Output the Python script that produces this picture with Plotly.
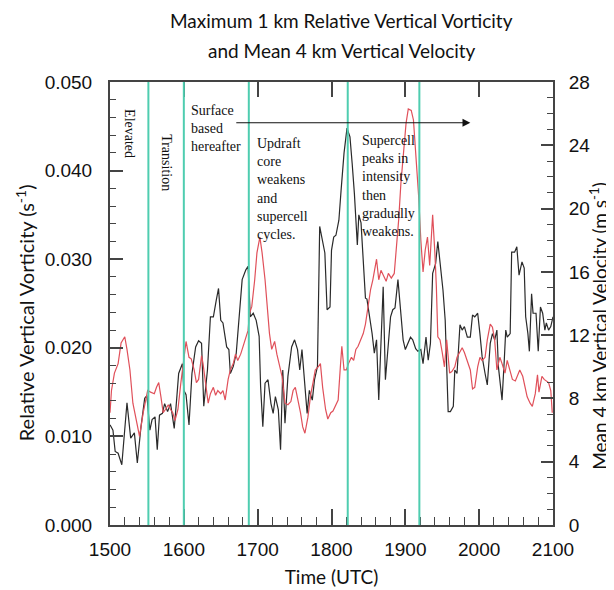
import plotly.graph_objects as go

# ---------------- data ----------------
vort_time = [1500, 1504, 1507, 1511, 1516, 1523, 1528, 1533, 1537, 1542, 1547, 1550,
             1554, 1557, 1561, 1564, 1567, 1571, 1574, 1578, 1582, 1587, 1590, 1593,
             1598, 1600, 1603, 1607, 1611, 1616, 1620, 1624, 1627, 1632, 1636, 1640,
             1644, 1647, 1650, 1653, 1658, 1661, 1663, 1667, 1671, 1676, 1679, 1684,
             1687, 1690, 1694, 1698, 1702, 1704, 1707, 1710, 1714, 1718, 1721, 1724,
             1728, 1731, 1734, 1737, 1741, 1746, 1750, 1754, 1757, 1760, 1764, 1767,
             1770, 1774, 1777, 1781, 1784, 1787, 1791, 1794, 1798, 1800, 1803, 1806,
             1810, 1813, 1817, 1821, 1825, 1828, 1831, 1835, 1837, 1840, 1844, 1846,
             1848, 1852, 1855, 1858, 1861, 1864, 1867, 1870, 1873, 1877, 1880, 1883,
             1886, 1890, 1893, 1897, 1900, 1904, 1907, 1910, 1914, 1917, 1921, 1924,
             1928, 1931, 1934, 1937, 1941, 1944, 1947, 1951, 1954, 1958, 1961, 1965,
             1967, 1970, 1974, 1977, 1980, 1984, 1988, 1991, 1994, 1998, 2001, 2004,
             2008, 2011, 2015, 2018, 2021, 2024, 2026, 2028, 2031, 2034, 2036, 2038,
             2042, 2044, 2048, 2051, 2054, 2058, 2061, 2063, 2066, 2068, 2071, 2073,
             2077, 2080, 2083, 2086, 2089, 2091, 2094, 2097, 2100]
vort_value = [0.0113, 0.0107, 0.0083, 0.0081, 0.0068, 0.0138, 0.0098, 0.0104, 0.0070, 0.0111, 0.0143, 0.0146,
              0.0107, 0.0119, 0.0122, 0.0085, 0.0124, 0.0126, 0.0137, 0.0128, 0.0137, 0.0109, 0.0139, 0.0171,
              0.0182, 0.0152, 0.0147, 0.0113, 0.0171, 0.0201, 0.0208, 0.0205, 0.0134, 0.0175, 0.0235, 0.0235,
              0.0254, 0.0267, 0.0231, 0.0228, 0.0201, 0.0198, 0.0171, 0.0179, 0.0194, 0.0246, 0.0277, 0.0288,
              0.0292, 0.0235, 0.0239, 0.0231, 0.0213, 0.0156, 0.0111, 0.0160, 0.0164, 0.0137, 0.0126, 0.0145,
              0.0130, 0.0085, 0.0175, 0.0115, 0.0168, 0.0201, 0.0209, 0.0198, 0.0175, 0.0198, 0.0160, 0.0126,
              0.0152, 0.0141, 0.0164, 0.0179, 0.0337, 0.0325, 0.0307, 0.0243, 0.0246, 0.0310, 0.0325, 0.0327,
              0.0344, 0.0378, 0.0420, 0.0448, 0.0438, 0.0408, 0.0374, 0.0316, 0.0350, 0.0341, 0.0292, 0.0256,
              0.0255, 0.0235, 0.0216, 0.0194, 0.0209, 0.0141, 0.0201, 0.0269, 0.0164, 0.0209, 0.0235, 0.0243,
              0.0245, 0.0277, 0.0246, 0.0209, 0.0198, 0.0205, 0.0212, 0.0209, 0.0199, 0.0196, 0.0198, 0.0182,
              0.0212, 0.0186, 0.0205, 0.0284, 0.0295, 0.0320, 0.0299, 0.0265, 0.0231, 0.0128, 0.0128, 0.0134,
              0.0175, 0.0171, 0.0226, 0.0220, 0.0224, 0.0212, 0.0212, 0.0237, 0.0235, 0.0239, 0.0216, 0.0190,
              0.0171, 0.0158, 0.0205, 0.0216, 0.0209, 0.0220, 0.0179, 0.0160, 0.0141, 0.0186, 0.0220, 0.0212,
              0.0216, 0.0308, 0.0308, 0.0314, 0.0282, 0.0297, 0.0290, 0.0235, 0.0216, 0.0196, 0.0261, 0.0239,
              0.0239, 0.0196, 0.0246, 0.0239, 0.0220, 0.0228, 0.0220, 0.0224, 0.0235]

vel_time = [1500, 1502, 1506, 1511, 1515, 1520, 1523, 1527, 1531, 1536, 1540, 1545,
            1548, 1551, 1555, 1560, 1563, 1566, 1569, 1572, 1575, 1579, 1582, 1585,
            1588, 1592, 1596, 1599, 1603, 1607, 1610, 1614, 1617, 1620, 1624, 1626,
            1629, 1633, 1636, 1640, 1643, 1646, 1650, 1653, 1656, 1660, 1663, 1667,
            1670, 1673, 1677, 1680, 1684, 1687, 1689, 1692, 1696, 1699, 1703, 1706,
            1710, 1713, 1716, 1719, 1723, 1726, 1730, 1733, 1737, 1741, 1745, 1748,
            1751, 1755, 1758, 1761, 1764, 1768, 1772, 1775, 1778, 1782, 1785, 1788,
            1792, 1795, 1799, 1802, 1805, 1809, 1812, 1814, 1817, 1820, 1823, 1827,
            1830, 1833, 1836, 1839, 1843, 1846, 1849, 1853, 1856, 1859, 1861, 1864,
            1867, 1871, 1874, 1877, 1881, 1885, 1888, 1891, 1894, 1898, 1901, 1904,
            1908, 1911, 1915, 1918, 1921, 1924, 1927, 1930, 1933, 1935, 1937, 1940,
            1942, 1944, 1947, 1950, 1953, 1956, 1960, 1963, 1967, 1970, 1974, 1977,
            1980, 1984, 1988, 1991, 1994, 1998, 2001, 2004, 2008, 2011, 2015, 2018,
            2021, 2024, 2028, 2031, 2035, 2038, 2042, 2045, 2049, 2052, 2055, 2059,
            2062, 2065, 2069, 2072, 2076, 2079, 2081, 2085, 2088, 2091, 2094, 2097,
            2099]
vel_value = [7.1, 8.5, 9.6, 10.2, 11.5, 11.9, 11.1, 9.8, 7.7, 6.4, 5.6, 7.1,
             7.7, 8.5, 8.4, 8.3, 8.7, 9.0, 8.1, 7.1, 7.3, 7.6, 7.3, 7.1,
             6.6, 7.3, 9.0, 10.2, 11.6, 10.6, 10.5, 9.8, 9.0, 9.2, 10.7, 10.2,
             9.2, 7.7, 8.3, 8.7, 8.2, 8.5, 8.3, 8.5, 7.9, 9.2, 9.8, 10.2,
             10.8, 10.4, 10.8, 11.3, 11.9, 12.3, 13.4, 13.8, 15.5, 17.2, 18.2, 17.2,
             15.5, 13.8, 12.1, 11.1, 11.6, 10.8, 10.0, 9.4, 7.7, 7.6, 7.8, 8.5,
             8.7, 7.9, 7.1, 6.2, 5.8, 6.8, 8.3, 9.0, 9.8, 10.0, 10.2, 8.7,
             7.3, 6.7, 7.1, 7.2, 7.5, 7.9, 10.0, 11.3, 9.8, 9.8, 10.2, 10.6,
             10.4, 11.1, 11.3, 11.7, 12.1, 12.7, 13.8, 14.9, 15.5, 16.3, 16.8, 15.5,
             16.1, 15.7, 15.4, 15.9, 15.6, 15.9, 17.4, 19.3, 21.6, 23.7, 25.4, 26.3,
             26.2, 25.6, 23.1, 20.8, 18.0, 16.0, 17.4, 18.2, 16.4, 18.4, 19.6, 17.2,
             15.1, 11.9, 11.7, 10.9, 10.0, 11.7, 9.6, 9.7, 10.0, 10.6, 10.9, 11.2,
             10.9, 10.4, 9.8, 8.6, 8.7, 10.0, 10.6, 10.4, 10.6, 11.7, 12.7, 12.5,
             11.7, 9.8, 10.6, 10.2, 9.6, 10.4, 9.8, 9.2, 9.1, 9.4, 9.8, 9.4,
             8.7, 8.1, 7.7, 7.5, 8.3, 9.5, 8.4, 9.4, 9.2, 9.1, 9.0, 8.5,
             7.1]

event_times = [1552, 1600, 1688, 1822, 1919]

x_ticks = [1500, 1600, 1700, 1800, 1900, 2000, 2100]
left_ticks = [0.000, 0.010, 0.020, 0.030, 0.040, 0.050]
right_ticks = [0, 4, 8, 12, 16, 20, 24, 28]

title_lines = ["Maximum 1 km Relative Vertical Vorticity", "and Mean 4 km Vertical Velocity"]
rotated_labels = [("Elevated", 1526, 0.0472), ("Transition", 1577, 0.0443)]
text_notes = [
    ("Surface<br>based<br>hereafter", 1607, 0.0479),
    ("Updraft<br>core<br>weakens<br>and<br>supercell<br>cycles.", 1697, 0.0441),
    ("Supercell<br>peaks in<br>intensity<br>then<br>gradually<br>weakens.", 1838, 0.0445),
]
arrow_start, arrow_end, arrow_level = 1669, 1988, 0.0454

# ---------------- figure ----------------
TICKFONT = dict(family="Liberation Sans, Arial, sans-serif", size=19, color="#111")
TITLEFONT = dict(family="Lato, Open Sans, sans-serif", size=19, color="#111")
LTITLEFONT = dict(family="Lato, Open Sans, sans-serif", size=20, color="#111")
RTITLEFONT = dict(family="Lato, Open Sans, sans-serif", size=19, color="#111")
SERIF = "Liberation Serif, Times New Roman, serif"
AXCOL = "#444"

fig = go.Figure()
fig.add_trace(go.Scatter(x=vort_time, y=vort_value, mode="lines",
                         line=dict(color="#2a2a2a", width=1.2), yaxis="y", showlegend=False))
fig.add_trace(go.Scatter(x=vel_time, y=vel_value, mode="lines",
                         line=dict(color="#e0505a", width=1.2), yaxis="y2", showlegend=False))
# helper trace for the top tick axis
fig.add_trace(go.Scatter(x=[], y=[], xaxis="x2", yaxis="y", showlegend=False))

for t in event_times:
    fig.add_shape(type="line", x0=t, x1=t, xref="x", y0=0, y1=1, yref="paper",
                  line=dict(color="#4fcdb0", width=2), layer="above")

for txt, xx, yy in rotated_labels:
    fig.add_annotation(x=xx, y=yy, xref="x", yref="y", text=txt, showarrow=False,
                       textangle=90, font=dict(family=SERIF, size=14, color="#111"),
                       xanchor="center", yanchor="top")

for txt, xx, yy in text_notes:
    fig.add_annotation(x=xx, y=yy, xref="x", yref="y", text=txt, showarrow=False,
                       align="left", xanchor="left", yanchor="top",
                       font=dict(family=SERIF, size=14, color="#111"))

fig.add_annotation(x=arrow_end, y=arrow_level, ax=arrow_start, ay=arrow_level,
                   xref="x", yref="y", axref="x", ayref="y", text="", showarrow=True,
                   arrowhead=2, arrowsize=1.3, arrowwidth=1.2, arrowcolor="#111")

# title (two lines, placed separately for line spacing)
for line, yy in zip(title_lines, [1.1377, 1.070]):
    fig.add_annotation(x=0.523, y=yy, xref="paper", yref="paper", showarrow=False,
                       text=line, font=dict(family="Lato, Open Sans, sans-serif", size=19,
                                            color="#111"),
                       xanchor="center", yanchor="middle")

# axis titles (placed as annotations for exact positioning)
fig.add_annotation(x=-0.192, y=0.48, xref="paper", yref="paper", showarrow=False,
                   text="Relative Vertical Vorticity (s<sup>-1</sup>)", textangle=-90,
                   font=LTITLEFONT, xanchor="center", yanchor="middle")
fig.add_annotation(x=1.102, y=0.45, xref="paper", yref="paper", showarrow=False,
                   text="Mean 4 km Vertical Velocity (m s<sup>-1</sup>)", textangle=-90,
                   font=RTITLEFONT, xanchor="center", yanchor="middle")

fig.update_layout(
    width=606, height=582,
    margin=dict(l=102, r=61, t=74, b=65),
    paper_bgcolor="white", plot_bgcolor="white",
    xaxis=dict(range=[1500, 2100], tickvals=x_ticks, ticktext=[str(v) for v in x_ticks],
               showgrid=False, zeroline=False, showline=True, linecolor=AXCOL, linewidth=2,
               mirror=True, ticks="inside", ticklen=16, tickwidth=1.5, tickcolor=AXCOL,
               minor=dict(dtick=20, ticks="inside", ticklen=8, tickwidth=1, tickcolor=AXCOL),
               tickfont=TICKFONT, ticklabelstandoff=6, automargin=False,
               title=dict(text="Time (UTC)", font=TITLEFONT, standoff=12)),
    xaxis2=dict(range=[1500, 2100], overlaying="x", side="top", anchor="y",
                tickvals=x_ticks, showticklabels=False, showgrid=False, zeroline=False,
                ticks="inside", ticklen=15, tickwidth=1.5, tickcolor=AXCOL, showline=False,
                automargin=False),
    yaxis=dict(range=[0, 0.05], tickvals=left_ticks, tickformat=".3f",
               showgrid=False, zeroline=False, showline=True, linecolor=AXCOL, linewidth=2,
               mirror=True, ticks="inside", ticklen=13, tickwidth=1.5, tickcolor=AXCOL,
               minor=dict(dtick=0.002, ticks="inside", ticklen=6, tickwidth=1, tickcolor=AXCOL),
               tickfont=TICKFONT, ticklabelstandoff=12, automargin=False),
    yaxis2=dict(range=[0, 28], tickvals=right_ticks, overlaying="y", side="right", anchor="x",
                showgrid=False, zeroline=False, showline=True, linecolor=AXCOL, linewidth=2,
                ticks="inside", ticklen=12, tickwidth=1.5, tickcolor=AXCOL,
                minor=dict(dtick=1, ticks="inside", ticklen=6, tickwidth=1, tickcolor=AXCOL),
                tickfont=TICKFONT, ticklabelstandoff=10, automargin=False),
)

fig.write_html("out.html")
